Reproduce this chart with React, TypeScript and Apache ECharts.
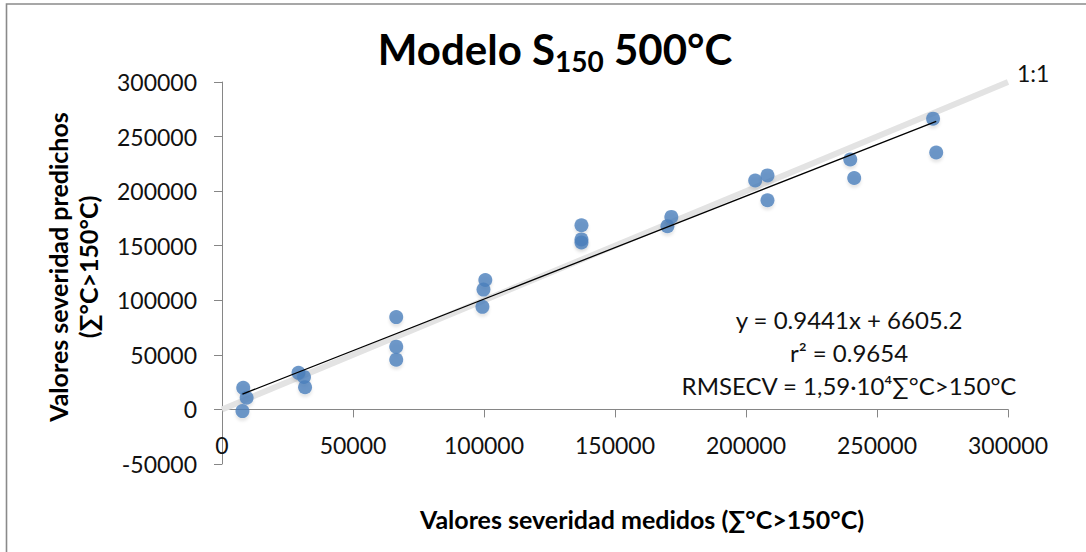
import React, { useEffect, useRef } from "react";
import * as echarts from "echarts";

const measured = [
  8100, 9400, 7800, 29200, 31300, 31700, 66500, 66500, 66500, 100500, 99800, 99400,
  137200, 137200, 137200, 170000, 171500, 203500, 208200, 208200, 239800, 241300,
  271400, 272600,
];
const predicted = [
  19800, 10700, -1500, 33500, 29800, 20400, 84600, 57500, 45600, 118600, 109800, 94000,
  168800, 155800, 153000, 167900, 176400, 209800, 214400, 191600, 229000, 212000,
  266400, 235400,
];
// Regression trend line endpoints (y = 0.9441x + 6605.2)
const trendX = [7800, 272600];
const trendY = [14000, 264000];
// 1:1 reference line
const oneToOneX = [0, 300000];
const oneToOneY = [0, 300000];

const xTicks = { min: 0, max: 300000, interval: 50000 };
const yTicks = { min: -50000, max: 300000, interval: 50000 };

const titleMain = "Modelo S";
const titleSub = "150";
const titleRest = " 500°C";
const xName = "Valores severidad medidos (∑°C>150°C)";
const yName = "Valores severidad predichos\n(∑°C>150°C)";
const statLines = ["y = 0.9441x + 6605.2", "r² = 0.9654", "RMSECV = 1,59·10⁴∑°C>150°C"];
const oneToOneLabel = "1:1";

const FONT = "Lato, 'Noto Sans', sans-serif";

export default function App() {
  const ref = useRef<HTMLDivElement>(null);
  useEffect(() => {
    if (!ref.current) return;
    const chart = echarts.init(ref.current, null, { renderer: "svg" });
    const axisColor = "#868686";
    const plain = (v: number) => String(v);
    chart.setOption({
      animation: false,
      backgroundColor: "#ffffff",
      textStyle: { fontFamily: FONT },
      grid: { left: 222, right: 78, top: 82, bottom: 88, containLabel: false },
      title: {
        text: `{a|${titleMain}}{b|${titleSub}}{a|${titleRest}}`,
        left: 550,
        top: 18,
        textAlign: "center",
        textStyle: {
          rich: {
            a: { fontFamily: FONT, fontSize: 42, fontWeight: "bold", color: "#000", lineHeight: 52, verticalAlign: "middle" },
            b: { fontFamily: FONT, fontSize: 28, fontWeight: "bold", color: "#000", lineHeight: 6, verticalAlign: "bottom" },
          },
        },
      },
      xAxis: [
        {
          // labels only, placed between the zero line and the bottom of the plot
          type: "value",
          position: "bottom",
          min: xTicks.min,
          max: xTicks.max,
          interval: xTicks.interval,
          axisLine: { show: false, onZero: false },
          axisTick: { show: false },
          axisLabel: { show: true, margin: -31, fontSize: 23, color: "#111", fontFamily: FONT, formatter: plain },
          splitLine: { show: false },
        },
        {
          // axis line and ticks crossing at y = 0
          type: "value",
          position: "bottom",
          min: xTicks.min,
          max: xTicks.max,
          interval: xTicks.interval,
          axisLine: { show: true, onZero: true, lineStyle: { color: axisColor, width: 1 } },
          axisTick: { show: true, length: 8, lineStyle: { color: axisColor } },
          axisLabel: { show: false },
          splitLine: { show: false },
        },
      ],
      yAxis: {
        type: "value",
        min: yTicks.min,
        max: yTicks.max,
        interval: yTicks.interval,
        axisLine: { show: true, onZero: false, lineStyle: { color: axisColor, width: 1 } },
        axisTick: { show: true, length: 8, lineStyle: { color: axisColor } },
        axisLabel: { show: true, margin: 25, fontSize: 23, color: "#111", fontFamily: FONT, formatter: plain },
        splitLine: { show: false },
      },
      series: [
        {
          type: "line",
          data: oneToOneX.map((x, i) => [x, oneToOneY[i]]),
          symbol: "none",
          lineStyle: { color: "#e3e3e3", width: 6 },
          endLabel: {
            show: true,
            formatter: oneToOneLabel,
            distance: 9,
            offset: [0, -9],
            fontSize: 23,
            color: "#111",
            fontFamily: FONT,
          },
          silent: true,
          z: 1,
        },
        {
          type: "scatter",
          data: measured.map((x, i) => [x, predicted[i]]),
          symbol: "circle",
          symbolSize: 14,
          itemStyle: {
            color: "#4A7EBB",
            shadowBlur: 3,
            shadowOffsetY: 3,
            shadowColor: "rgba(0,0,0,0.12)",
          },
          z: 2,
        },
        {
          type: "line",
          data: trendX.map((x, i) => [x, trendY[i]]),
          symbol: "none",
          lineStyle: { color: "#000", width: 1.3 },
          silent: true,
          z: 3,
        },
      ],
      graphic: [
        {
          type: "rect",
          shape: { x: 6.5, y: 4, width: 1200, height: 800 },
          style: { fill: "none", stroke: "#8a8a8a", lineWidth: 1.6 },
          silent: true,
        },
        {
          type: "text",
          x: 73,
          y: 267,
          rotation: Math.PI / 2,
          style: {
            text: yName,
            align: "center",
            verticalAlign: "middle",
            fontFamily: FONT,
            fontSize: 25,
            fontWeight: "bold",
            lineHeight: 30,
            fill: "#000",
          },
        },
        {
          type: "text",
          x: 642,
          y: 519,
          style: {
            text: xName,
            align: "center",
            verticalAlign: "middle",
            fontFamily: FONT,
            fontSize: 25,
            fontWeight: "bold",
            fill: "#000",
          },
        },
        {
          type: "text",
          x: 849,
          y: 352,
          style: {
            text: statLines.join("\n"),
            align: "center",
            verticalAlign: "middle",
            fontFamily: FONT,
            fontSize: 24,
            lineHeight: 33,
            fill: "#111",
          },
        },
      ],
    });
    return () => chart.dispose();
  }, []);
  return (
    <div
      ref={ref}
      style={{ position: "absolute", left: 0, top: 0, width: 1086, height: 552, background: "#fff" }}
    />
  );
}
